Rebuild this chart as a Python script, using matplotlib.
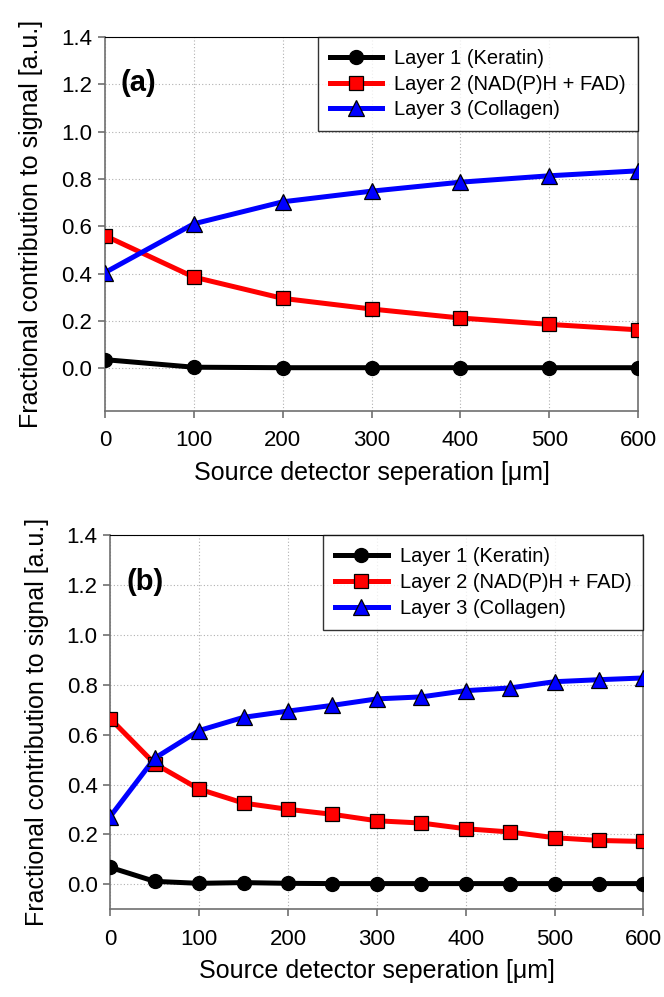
import matplotlib
matplotlib.use("Agg")
import matplotlib.pyplot as plt

plt.rcParams["font.family"] = ["Liberation Sans", "DejaVu Sans"]

# panel (a): 100 um steps
sep_a = [0, 100, 200, 300, 400, 500, 600]
keratin_a = [0.036, 0.004, 0.002, 0.002, 0.002, 0.002, 0.002]
nadh_a = [0.560, 0.385, 0.295, 0.250, 0.212, 0.185, 0.162]
collagen_a = [0.404, 0.610, 0.703, 0.748, 0.786, 0.813, 0.834]

# panel (b): 50 um steps
sep_b = [0, 50, 100, 150, 200, 250, 300, 350, 400, 450, 500, 550, 600]
keratin_b = [0.068, 0.012, 0.004, 0.007, 0.004, 0.003, 0.003, 0.003, 0.003, 0.003, 0.003, 0.003, 0.003]
nadh_b = [0.665, 0.484, 0.382, 0.326, 0.301, 0.281, 0.255, 0.246, 0.223, 0.210, 0.187, 0.176, 0.172]
collagen_b = [0.272, 0.506, 0.617, 0.670, 0.695, 0.718, 0.744, 0.752, 0.777, 0.788, 0.813, 0.821, 0.828]

LABELS = ["Layer 1 (Keratin)", "Layer 2 (NAD(P)H + FAD)", "Layer 3 (Collagen)"]
yticks = [0.0, 0.2, 0.4, 0.6, 0.8, 1.0, 1.2, 1.4]
xticks = [0, 100, 200, 300, 400, 500, 600]


def panel(ax, x, k, n, c, tag, ymin):
    ax.plot(x, k, "-", color="black", lw=3.6, marker="o", ms=10,
            mfc="black", mec="black", label=LABELS[0], zorder=3)
    ax.plot(x, n, "-", color="red", lw=3.6, marker="s", ms=9.5,
            mfc="red", mec="black", mew=0.9, label=LABELS[1], zorder=3)
    ax.plot(x, c, "-", color="blue", lw=3.6, marker="^", ms=12,
            mfc="blue", mec="black", mew=0.9, label=LABELS[2], zorder=4)
    ax.set_xlim(0, 600); ax.set_ylim(ymin, 1.4)
    ax.set_xticks(xticks); ax.set_yticks(yticks)
    ax.set_yticklabels([f"{v:.1f}" for v in yticks])
    ax.grid(True, color="#b0b0b0", ls=(0, (1, 2)), lw=0.8)
    for s in ["left", "bottom", "right"]:
        ax.spines[s].set_color("#707070"); ax.spines[s].set_linewidth(1.2)
    ax.spines["top"].set_linestyle((0, (2, 1))); ax.spines["top"].set_linewidth(0.8)
    ax.tick_params(direction="out", length=5, width=1.2, color="#707070",
                   labelsize=16, pad=4)
    ax.tick_params(axis="x", pad=9)
    ax.set_xlabel("Source detector seperation [\u03bcm]", fontsize=18, labelpad=7)
    ax.set_ylabel("Fractional contribution to signal [a.u.]", fontsize=18, labelpad=13)
    ax.text(0.03, 0.855, tag, transform=ax.transAxes, fontsize=21, fontweight="bold")
    leg = ax.legend(loc="upper right", fontsize=14.5, frameon=True, fancybox=False,
                    edgecolor="black", handlelength=2.6, borderaxespad=0,
                    labelspacing=0.33, borderpad=0.6, handletextpad=0.6)
    leg.get_frame().set_linewidth(1.0)


fig = plt.figure(figsize=(6.64, 9.97), dpi=100)
ax1 = fig.add_axes([0.158, 0.588, 0.803, 0.375])
ax2 = fig.add_axes([0.166, 0.088, 0.803, 0.375])
panel(ax1, sep_a, keratin_a, nadh_a, collagen_a, "(a)", -0.18)
panel(ax2, sep_b, keratin_b, nadh_b, collagen_b, "(b)", -0.1)
fig.savefig("out.png", dpi=100)
